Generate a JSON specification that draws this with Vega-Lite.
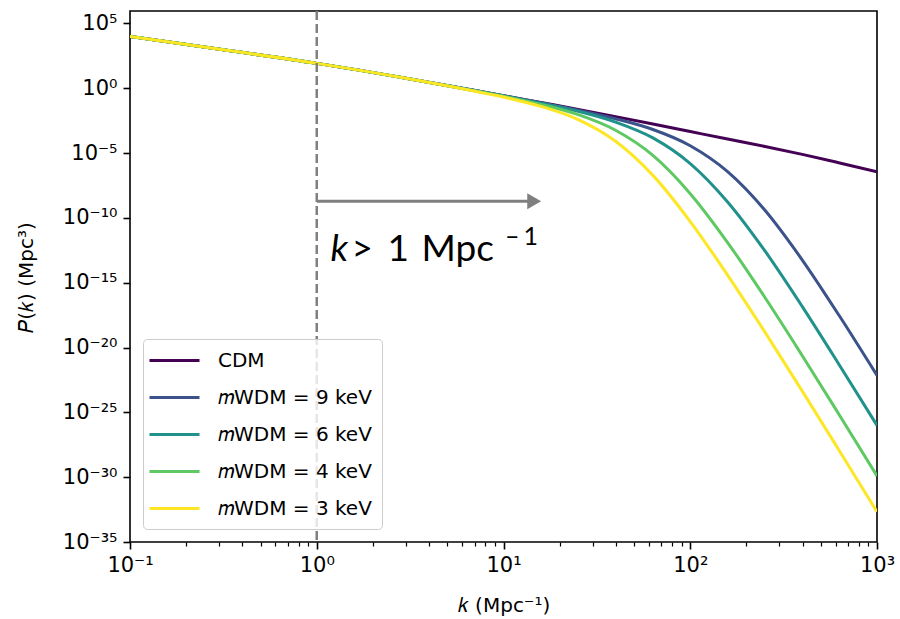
{
  "$schema": "https://vega.github.io/schema/vega-lite/v6.json",
  "width": 747,
  "height": 531,
  "autosize": {"type": "none"},
  "padding": {"left": 130, "top": 11, "right": 23, "bottom": 77},
  "background": "white",
  "config": {
    "font": "DejaVu Sans",
    "view": {"stroke": "black", "strokeWidth": 1.6},
    "axis": {
      "grid": false,
      "domain": false,
      "tickColor": "black",
      "labelColor": "black",
      "titleColor": "black",
      "labelFont": "DejaVu Sans",
      "labelFontSize": 21,
      "titleFont": "DejaVu Sans",
      "titleFontSize": 20,
      "titleFontWeight": "normal"
    }
  },
  "datasets": {
    "spectra": [
      {"model": "CDM", "k": 0.1, "P": 1e4},
      {"model": "CDM", "k": 0.3162, "P": 933.3},
      {"model": "CDM", "k": 1, "P": 83.18},
      {"model": "CDM", "k": 3.162, "P": 5.248},
      {"model": "CDM", "k": 6.31, "P": 0.8913},
      {"model": "CDM", "k": 10, "P": 0.2692},
      {"model": "CDM", "k": 15.85, "P": 0.07943},
      {"model": "CDM", "k": 25.12, "P": 0.02344},
      {"model": "CDM", "k": 39.81, "P": 0.006457},
      {"model": "CDM", "k": 63.1, "P": 0.001738},
      {"model": "CDM", "k": 100, "P": 4.571e-4},
      {"model": "CDM", "k": 158.5, "P": 1.202e-4},
      {"model": "CDM", "k": 251.2, "P": 3.236e-5},
      {"model": "CDM", "k": 398.1, "P": 7.943e-6},
      {"model": "CDM", "k": 631, "P": 1.738e-6},
      {"model": "CDM", "k": 1000, "P": 3.631e-7},

      {"model": "𝑚WDM = 9 keV", "k": 0.1, "P": 1e4},
      {"model": "𝑚WDM = 9 keV", "k": 0.3162, "P": 933.3},
      {"model": "𝑚WDM = 9 keV", "k": 1, "P": 83.18},
      {"model": "𝑚WDM = 9 keV", "k": 3.162, "P": 5.248},
      {"model": "𝑚WDM = 9 keV", "k": 6.31, "P": 0.8913},
      {"model": "𝑚WDM = 9 keV", "k": 10, "P": 0.263},
      {"model": "𝑚WDM = 9 keV", "k": 15.85, "P": 0.07586},
      {"model": "𝑚WDM = 9 keV", "k": 25.12, "P": 0.02042},
      {"model": "𝑚WDM = 9 keV", "k": 39.81, "P": 0.004467},
      {"model": "𝑚WDM = 9 keV", "k": 63.1, "P": 6.607e-4},
      {"model": "𝑚WDM = 9 keV", "k": 100, "P": 3.715e-5},
      {"model": "𝑚WDM = 9 keV", "k": 158.5, "P": 3.715e-7},
      {"model": "𝑚WDM = 9 keV", "k": 251.2, "P": 3.89e-10},
      {"model": "𝑚WDM = 9 keV", "k": 398.1, "P": 5.623e-14},
      {"model": "𝑚WDM = 9 keV", "k": 631, "P": 2.57e-18},
      {"model": "𝑚WDM = 9 keV", "k": 1000, "P": 7.079e-23},

      {"model": "𝑚WDM = 6 keV", "k": 0.1, "P": 1e4},
      {"model": "𝑚WDM = 6 keV", "k": 0.3162, "P": 933.3},
      {"model": "𝑚WDM = 6 keV", "k": 1, "P": 83.18},
      {"model": "𝑚WDM = 6 keV", "k": 3.162, "P": 5.248},
      {"model": "𝑚WDM = 6 keV", "k": 6.31, "P": 0.871},
      {"model": "𝑚WDM = 6 keV", "k": 10, "P": 0.257},
      {"model": "𝑚WDM = 6 keV", "k": 15.85, "P": 0.06918},
      {"model": "𝑚WDM = 6 keV", "k": 25.12, "P": 0.0166},
      {"model": "𝑚WDM = 6 keV", "k": 39.81, "P": 0.002455},
      {"model": "𝑚WDM = 6 keV", "k": 63.1, "P": 1.479e-4},
      {"model": "𝑚WDM = 6 keV", "k": 100, "P": 1.549e-6},
      {"model": "𝑚WDM = 6 keV", "k": 158.5, "P": 1.698e-9},
      {"model": "𝑚WDM = 6 keV", "k": 251.2, "P": 2.818e-13},
      {"model": "𝑚WDM = 6 keV", "k": 398.1, "P": 1.445e-17},
      {"model": "𝑚WDM = 6 keV", "k": 631, "P": 4.169e-22},
      {"model": "𝑚WDM = 6 keV", "k": 1000, "P": 9.772e-27},

      {"model": "𝑚WDM = 4 keV", "k": 0.1, "P": 1e4},
      {"model": "𝑚WDM = 4 keV", "k": 0.3162, "P": 933.3},
      {"model": "𝑚WDM = 4 keV", "k": 1, "P": 83.18},
      {"model": "𝑚WDM = 4 keV", "k": 3.162, "P": 5.248},
      {"model": "𝑚WDM = 4 keV", "k": 6.31, "P": 0.8511},
      {"model": "𝑚WDM = 4 keV", "k": 10, "P": 0.2399},
      {"model": "𝑚WDM = 4 keV", "k": 15.85, "P": 0.05623},
      {"model": "𝑚WDM = 4 keV", "k": 25.12, "P": 0.00912},
      {"model": "𝑚WDM = 4 keV", "k": 39.81, "P": 5.754e-4},
      {"model": "𝑚WDM = 4 keV", "k": 63.1, "P": 6.607e-6},
      {"model": "𝑚WDM = 4 keV", "k": 100, "P": 7.413e-9},
      {"model": "𝑚WDM = 4 keV", "k": 158.5, "P": 1.259e-12},
      {"model": "𝑚WDM = 4 keV", "k": 251.2, "P": 7.244e-17},
      {"model": "𝑚WDM = 4 keV", "k": 398.1, "P": 2.344e-21},
      {"model": "𝑚WDM = 4 keV", "k": 631, "P": 5.754e-26},
      {"model": "𝑚WDM = 4 keV", "k": 1000, "P": 1.259e-30},

      {"model": "𝑚WDM = 3 keV", "k": 0.1, "P": 1e4},
      {"model": "𝑚WDM = 3 keV", "k": 0.3162, "P": 933.3},
      {"model": "𝑚WDM = 3 keV", "k": 1, "P": 83.18},
      {"model": "𝑚WDM = 3 keV", "k": 3.162, "P": 5.2},
      {"model": "𝑚WDM = 3 keV", "k": 6.31, "P": 0.8128},
      {"model": "𝑚WDM = 3 keV", "k": 10, "P": 0.2089},
      {"model": "𝑚WDM = 3 keV", "k": 15.85, "P": 0.03981},
      {"model": "𝑚WDM = 3 keV", "k": 25.12, "P": 0.003802},
      {"model": "𝑚WDM = 3 keV", "k": 39.81, "P": 8.128e-5},
      {"model": "𝑚WDM = 3 keV", "k": 63.1, "P": 1.905e-7},
      {"model": "𝑚WDM = 3 keV", "k": 100, "P": 5.248e-11},
      {"model": "𝑚WDM = 3 keV", "k": 158.5, "P": 3.89e-15},
      {"model": "𝑚WDM = 3 keV", "k": 251.2, "P": 1.549e-19},
      {"model": "𝑚WDM = 3 keV", "k": 398.1, "P": 4.365e-24},
      {"model": "𝑚WDM = 3 keV", "k": 631, "P": 1e-28},
      {"model": "𝑚WDM = 3 keV", "k": 1000, "P": 2.138e-33}
    ],
    "annotation": [
      {"k": 1.185, "P": 4.5e-14, "label": "k", "part": "var"},
      {"k": 1.535, "P": 4.5e-14, "label": ">", "part": "main"},
      {"k": 2.392, "P": 4.5e-14, "label": "1", "part": "main"},
      {"k": 3.638, "P": 4.5e-14, "label": "Mpc", "part": "main"},
      {"k": 10.2, "P": 7.7e-13, "label": "–", "part": "sup"},
      {"k": 12.8, "P": 7.7e-13, "label": "1", "part": "sup"}
    ]
  },
  "layer": [
    {
      "data": {"name": "spectra"},
      "mark": {"type": "line", "strokeWidth": 3, "interpolate": "monotone", "clip": true},
      "encoding": {
        "x": {
          "field": "k",
          "type": "quantitative",
          "scale": {"type": "log", "domain": [0.1, 1000], "nice": false},
          "axis": {
            "values": [0.1, 0.2, 0.3, 0.4, 0.5, 0.6, 0.7, 0.8, 0.9, 1, 2, 3, 4, 5, 6, 7, 8, 9, 10, 20, 30, 40, 50, 60, 70, 80, 90, 100, 200, 300, 400, 500, 600, 700, 800, 900, 1000],
            "labelExpr": "abs(log(datum.value)/LN10 - round(log(datum.value)/LN10)) < 0.001 ? '10' + (round(log(datum.value)/LN10) < 0 ? '⁻' : '') + substring('⁰¹²³⁴⁵⁶⁷⁸⁹', abs(round(log(datum.value)/LN10)), abs(round(log(datum.value)/LN10)) + 1) : ''",
            "tickSize": {"condition": {"test": "abs(log(datum.value)/LN10 - round(log(datum.value)/LN10)) < 0.001", "value": 7}, "value": 4},
            "tickWidth": {"condition": {"test": "abs(log(datum.value)/LN10 - round(log(datum.value)/LN10)) < 0.001", "value": 1.6}, "value": 1.2},
            "labelPadding": 5,
            "labelOverlap": false,
            "labelFlush": false,
            "title": "𝑘 (Mpc⁻¹)",
            "titleY": 63,
            "titleBaseline": "middle"
          }
        },
        "y": {
          "field": "P",
          "type": "quantitative",
          "scale": {"type": "log", "domain": [1e-35, 9.1e5], "nice": false},
          "axis": {
            "values": [1e5, 1, 1e-5, 1e-10, 1e-15, 1e-20, 1e-25, 1e-30, 1e-35],
            "labelExpr": "'10' + (round(log(datum.value)/LN10) < 0 ? '⁻' : '') + (abs(round(log(datum.value)/LN10)) >= 10 ? substring('⁰¹²³⁴⁵⁶⁷⁸⁹', floor(abs(round(log(datum.value)/LN10))/10), floor(abs(round(log(datum.value)/LN10))/10) + 1) : '') + substring('⁰¹²³⁴⁵⁶⁷⁸⁹', abs(round(log(datum.value)/LN10)) % 10, abs(round(log(datum.value)/LN10)) % 10 + 1)",
            "tickSize": 7,
            "tickWidth": 1.6,
            "labelPadding": 6,
            "labelOverlap": false,
            "labelFlush": false,
            "title": "𝑃(𝑘) (Mpc³)",
            "titleX": -104,
            "titleY": 266,
            "titleAlign": "center",
            "titleBaseline": "middle"
          }
        },
        "color": {
          "field": "model",
          "type": "nominal",
          "sort": null,
          "scale": {
            "domain": ["CDM", "𝑚WDM = 9 keV", "𝑚WDM = 6 keV", "𝑚WDM = 4 keV", "𝑚WDM = 3 keV"],
            "range": ["#440154", "#3b528b", "#21918c", "#5ec962", "#fde725"]
          },
          "legend": {
            "orient": "none",
            "legendX": 13,
            "legendY": 328,
            "title": null,
            "symbolType": "M-1.5,0H3.5",
            "symbolSize": 400,
            "symbolStrokeWidth": 3,
            "labelFont": "DejaVu Sans",
            "labelFontSize": 20,
            "labelOffset": 42,
            "labelLimit": 400,
            "rowPadding": 15,
            "padding": 10,
            "fillColor": "rgba(255,255,255,0.8)",
            "strokeColor": "#cccccc",
            "cornerRadius": 4
          }
        }
      }
    },
    {
      "data": {"values": [{"k": 1}]},
      "mark": {"type": "rule", "color": "#808080", "strokeWidth": 2.5, "strokeDash": [9, 4]},
      "encoding": {
        "x": {"field": "k", "type": "quantitative", "scale": {"type": "log", "domain": [0.1, 1000], "nice": false}}
      }
    },
    {
      "data": {"values": [{"k": 1, "k2": 13.6, "P": 1.9e-9}]},
      "mark": {"type": "rule", "color": "#7f7f7f", "strokeWidth": 3},
      "encoding": {
        "x": {"field": "k", "type": "quantitative", "scale": {"type": "log", "domain": [0.1, 1000], "nice": false}},
        "x2": {"field": "k2"},
        "y": {"field": "P", "type": "quantitative", "scale": {"type": "log", "domain": [1e-35, 9.1e5], "nice": false}}
      }
    },
    {
      "data": {"values": [{"k": 14.6, "P": 1.9e-9}]},
      "mark": {"type": "point", "shape": "triangle-right", "filled": true, "color": "#7f7f7f", "opacity": 1, "size": 256},
      "encoding": {
        "x": {"field": "k", "type": "quantitative", "scale": {"type": "log", "domain": [0.1, 1000], "nice": false}},
        "y": {"field": "P", "type": "quantitative", "scale": {"type": "log", "domain": [1e-35, 9.1e5], "nice": false}}
      }
    },
    {
      "data": {"name": "annotation"},
      "transform": [{"filter": "datum.part === 'var'"}],
      "mark": {"type": "text", "align": "left", "baseline": "alphabetic", "font": "Lato", "fontSize": 37, "fontStyle": "italic", "color": "black"},
      "encoding": {
        "x": {"field": "k", "type": "quantitative", "scale": {"type": "log", "domain": [0.1, 1000], "nice": false}},
        "y": {"field": "P", "type": "quantitative", "scale": {"type": "log", "domain": [1e-35, 9.1e5], "nice": false}},
        "text": {"field": "label"}
      }
    },
    {
      "data": {"name": "annotation"},
      "transform": [{"filter": "datum.part === 'main'"}],
      "mark": {"type": "text", "align": "left", "baseline": "alphabetic", "font": "Lato", "fontSize": 37, "color": "black"},
      "encoding": {
        "x": {"field": "k", "type": "quantitative", "scale": {"type": "log", "domain": [0.1, 1000], "nice": false}},
        "y": {"field": "P", "type": "quantitative", "scale": {"type": "log", "domain": [1e-35, 9.1e5], "nice": false}},
        "text": {"field": "label"}
      }
    },
    {
      "data": {"name": "annotation"},
      "transform": [{"filter": "datum.part === 'sup'"}],
      "mark": {"type": "text", "align": "left", "baseline": "alphabetic", "font": "Lato", "fontSize": 25, "color": "black"},
      "encoding": {
        "x": {"field": "k", "type": "quantitative", "scale": {"type": "log", "domain": [0.1, 1000], "nice": false}},
        "y": {"field": "P", "type": "quantitative", "scale": {"type": "log", "domain": [1e-35, 9.1e5], "nice": false}},
        "text": {"field": "label"}
      }
    }
  ]
}
